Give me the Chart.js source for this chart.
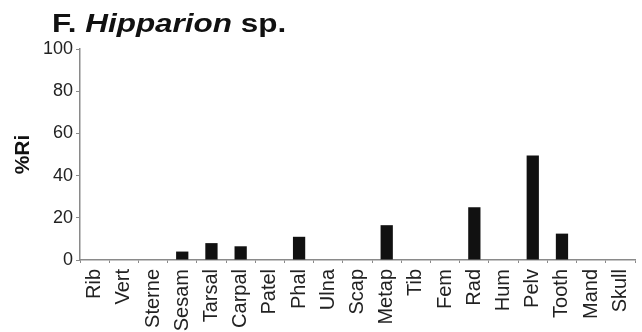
<!DOCTYPE html>
<html lang="en">
<head>
	<meta charset="UTF-8">
	<title>Hipparion sp.</title>
	<style>
		body { margin: 0; background: #fff; }
		#wrap { position: relative; width: 642px; height: 332px; }
		#title {
			position: absolute; left: 52px; top: 10px; margin: 0;
			font: bold 26px "Liberation Sans", Arial, sans-serif; line-height: 1; color: #111;
			transform: scaleX(1.21); transform-origin: left top; white-space: nowrap;
		}
	</style>
</head>
<body>
	<script src="https://cdn.jsdelivr.net/npm/chart.js"></script>

	<div id="wrap">
		<canvas id="mainChart" width="642" height="332"></canvas>
		<p id="title">F. <i>Hipparion</i> sp.</p>
	</div>

	<script>
		const categories = ["Rib", "Vert", "Sterne", "Sesam", "Tarsal", "Carpal", "Patel", "Phal", "Ulna", "Scap", "Metap", "Tib", "Fem", "Rad", "Hum", "Pelv", "Tooth", "Mand", "Skull"]
		const riValues = [0, 0, 0, 4, 8, 6.5, 0, 11, 0, 0, 16.5, 0, 0, 25, 0, 49.5, 12.5, 0, 0]
		const yTicks = [0, 20, 40, 60, 80, 100]

		const font = "'Liberation Sans', Arial, sans-serif"
		const axisColor = "#8a8a8a"

		new Chart(document.getElementById("mainChart"), {
			type: "bar",
			data: {
				labels: categories,
				datasets: [{
					label: "%Ri",
					data: riValues,
					backgroundColor: "#111",
					barPercentage: 0.42,
					categoryPercentage: 1.0
				}]
			},
			options: {
				responsive: false,
				animation: false,
				layout: { padding: { top: 49, right: 7, bottom: 0, left: 0 } },
				plugins: { legend: { display: false }, tooltip: { enabled: false } },
				scales: {
					x: {
						offset: true,
						grid: { offset: true, drawOnChartArea: false, tickLength: 3, color: axisColor },
						border: { color: axisColor, width: 1.5 },
						ticks: {
							color: "#222", padding: 6, maxRotation: 90, minRotation: 90, autoSkip: false,
							font: { family: font, size: 20 }
						},
						afterFit: scale => {
							scale.height = 72
							scale.paddingLeft = 0
							scale.paddingRight = 0
						}
					},
					y: {
						min: 0, max: 100,
						afterBuildTicks: scale => { scale.ticks = yTicks.map(v => ({ value: v })) },
						grid: { drawOnChartArea: false, tickLength: 4, color: axisColor },
						border: { color: axisColor, width: 1.5 },
						ticks: { color: "#222", padding: 3, font: { family: font, size: 18 } },
						title: {
							display: true, text: "%Ri", color: "#111",
							font: { family: font, size: 21, weight: "bold" },
							padding: { top: 11, bottom: 0 }
						},
						afterFit: scale => { scale.width = 80 }
					}
				}
			}
		})
	</script>
</body>
</html>
